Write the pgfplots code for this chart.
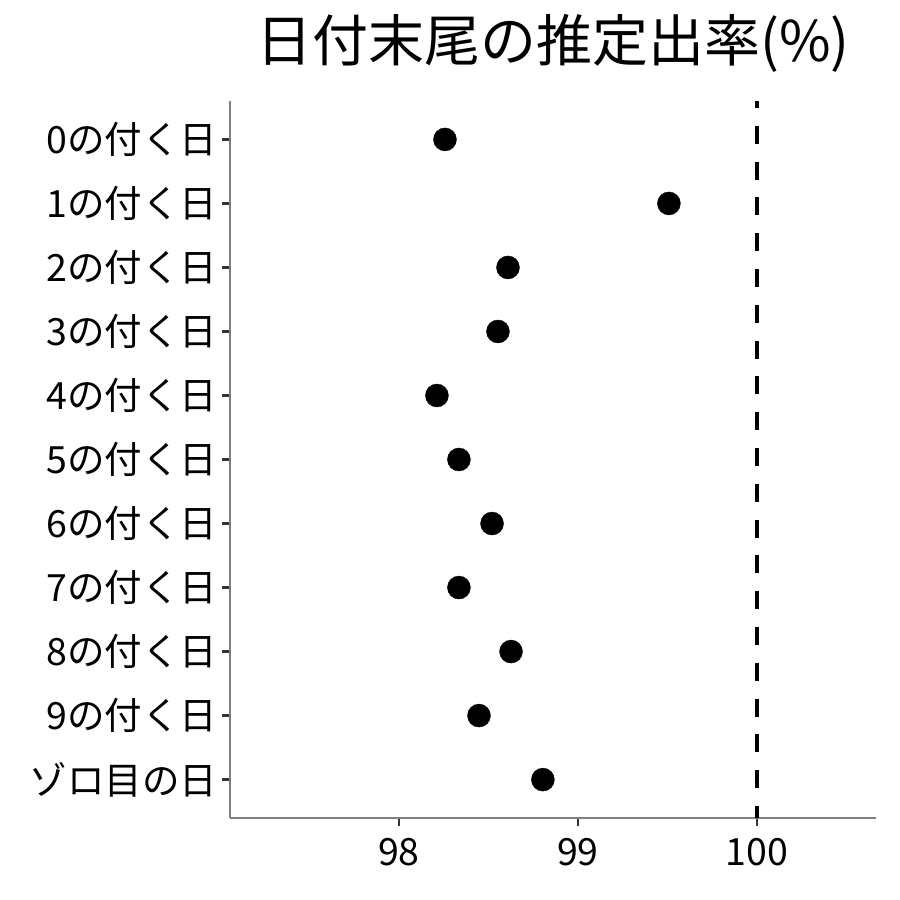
\documentclass[border=0pt]{standalone}
\usepackage{fontspec}
\setmainfont{Noto Sans CJK JP}
\usepackage{pgfplots}
\pgfplotsset{compat=1.18}
\definecolor{axgray}{HTML}{7F7F7F}
\definecolor{tickgray}{HTML}{333333}
\begin{document}
\begin{tikzpicture}
\useasboundingbox (-230pt,-82pt) rectangle (670pt,818pt);
\begin{axis}[
  at={(0pt,0pt)}, anchor=south west,
  scale only axis, width=646pt, height=717pt,
  xmin=97.056, xmax=100.665,
  ymin=0.4, ymax=11.6, y dir=reverse,
  axis lines*=left,
  axis line style={axgray, line width=1.3pt, -},
  xtick={98,99,100}, xticklabels={98,99,100},
  ytick={1,...,11},
  yticklabels={0の付く日,1の付く日,2の付く日,3の付く日,4の付く日,5の付く日,6の付く日,7の付く日,8の付く日,9の付く日,ゾロ目の日},
  tick align=outside, major tick length=8pt,
  every tick/.style={tickgray, line width=2.6pt},
  tick label style={font=\fontsize{37.5}{42}\selectfont, text=black},
  xticklabel style={yshift=-9pt},
  yticklabel style={xshift=-1pt},
  title={日付末尾の推定出率(\%)},
  title style={font=\fontsize{56}{62}\selectfont, at={(0.5,1)}, anchor=center, yshift=52pt},
  clip=false,
]
\addplot[black, line width=3.6pt, dash pattern=on 18pt off 17.8pt, dash phase=11pt] coordinates {(100,0.4) (100,11.6)};
\addplot[only marks, mark=*, mark size=11.5pt, black] coordinates {
(98.257,1) (99.508,2) (98.609,3) (98.553,4) (98.212,5) (98.335,6)
(98.520,7) (98.335,8) (98.626,9) (98.447,10) (98.804,11)
};
\end{axis}
\end{tikzpicture}
\end{document}
